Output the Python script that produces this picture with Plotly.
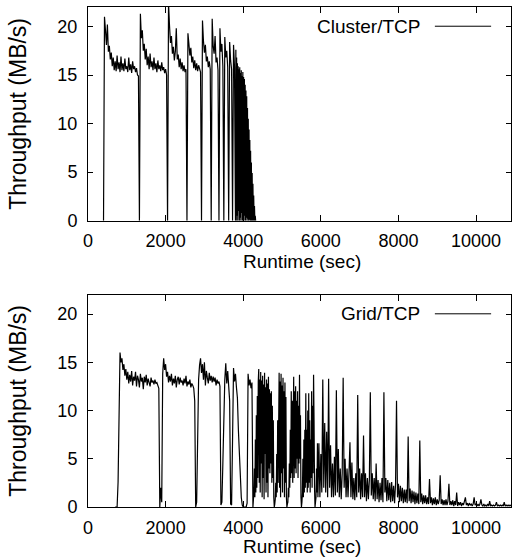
import plotly.graph_objects as go

# Cluster/TCP throughput (MB/s), one sample every 25 s starting at t=400 s
cluster_start = 400
cluster_step = 25
cluster_tput = [
    0, 21.0, 19.6, 18.1, 20.2, 17.4, 18.0, 16.6, 17.3, 15.9,
    16.8, 15.5, 16.4, 15.4, 17.0, 15.6, 16.3, 15.3, 16.9, 15.5,
    16.2, 15.4, 16.7, 15.6, 15.9, 15.3, 16.8, 15.5, 16.1, 15.2,
    16.4, 15.6, 15.9, 15.3, 15.7, 15.0, 14.9, 0, 21.3, 18.8,
    19.6, 17.5, 18.2, 16.6, 17.7, 16.0, 16.9, 15.6, 17.2, 15.8,
    16.4, 15.5, 16.8, 15.6, 16.2, 15.3, 16.5, 15.6, 16.0, 15.4,
    16.3, 15.5, 15.8, 15.2, 15.6, 15.0, 0, 22.4, 20.1, 18.3,
    19.0, 17.2, 17.9, 16.5, 17.4, 19.8, 16.6, 17.1, 15.8, 16.7,
    15.6, 16.3, 15.4, 16.0, 15.3, 15.6, 0, 19.3, 18.2, 17.0,
    17.8, 16.3, 16.9, 15.7, 16.5, 15.5, 16.2, 15.4, 16.0, 15.6,
    15.3, 0, 20.6, 18.5, 17.3, 18.1, 16.4, 16.9, 15.8, 16.4,
    15.6, 0, 20.8, 18.0, 17.2, 19.0, 16.3, 16.8, 15.5, 0,
    19.8, 17.4, 18.2, 15.9, 0, 18.9, 16.8, 17.5, 15.8, 0,
    18.4, 16.5, 15.6, 0, 18.1, 15.8, 0,
]
# last stretch of Cluster/TCP, sampled every 10 s from t=3810 s
cluster_tail_start = 3810
cluster_tail_step = 10
cluster_tail = [
    17.6, 0, 16.8, 0.5, 16.2, 0, 15.9, 1.0, 15.6, 0,
    15.8, 0.3, 15.2, 0, 15.5, 0.8, 14.9, 0, 15.3, 0.2,
    14.8, 0, 14.6, 0.5, 14.0, 0, 13.4, 0.3, 12.8, 0,
    11.6, 0.2, 10.5, 0, 9.4, 0.1, 8.3, 0, 7.2, 0,
    6.0, 0, 4.9, 0, 3.8, 0, 2.6, 0, 1.5, 0,
    0.5, 0,
]

# Grid/TCP throughput (MB/s), every 25 s from t=700 s up to t=4225 s
grid_head_start = 700
grid_head_step = 25
grid_head = [
    0, 0, 0, 2.6, 9.5, 16.0, 15.0, 15.4, 14.2, 14.8,
    13.6, 14.3, 13.2, 14.0, 12.8, 13.7, 13.0, 14.1, 12.6, 13.5,
    13.1, 14.0, 12.5, 13.6, 13.2, 12.4, 13.8, 13.0, 13.4, 12.2,
    13.5, 12.9, 13.7, 12.6, 13.3, 13.0, 12.5, 13.4, 12.9, 13.1,
    12.7, 13.2, 12.8, 12.9, 12.5, 12.3, 0, 2.0, 0.5, 13.8,
    15.4, 14.2, 14.8, 13.5, 14.0, 12.9, 13.6, 13.0, 13.8, 12.6,
    13.3, 12.8, 13.6, 12.4, 13.2, 13.5, 12.7, 13.4, 12.9, 13.1,
    12.6, 13.3, 12.8, 13.6, 12.5, 13.0, 12.7, 13.2, 12.4, 12.8,
    12.6, 12.3, 11.0, 0, 0.5, 8.5, 13.2, 14.7, 15.4, 13.9,
    14.8, 13.2, 15.0, 12.6, 14.1, 13.4, 12.8, 13.9, 13.1, 13.6,
    12.9, 13.5, 13.0, 13.4, 12.6, 13.2, 12.8, 13.0, 12.5, 0.2,
    0.5, 4.5, 10.5, 13.2, 14.9, 12.8, 14.1, 12.2, 11.0, 0.3,
    0.2, 7.0, 14.4, 13.0, 13.8, 12.4, 11.3, 8.0, 5.2, 2.5,
    1.0, 0.2, 0, 0, 0, 0, 0.4, 13.8, 12.6, 13.2,
    12.3, 12.9,
]
# the busy middle part, every 12.5 s from t=4250 s up to t=5937.5 s
grid_mid_start = 4250
grid_mid_step = 12.5
grid_mid = [
    0, 0.5, 1.5, 4.0, 1.0, 7.0, 1.5, 9.5, 2.0, 11.5,
    3.0, 13.0, 14.3, 2.5, 13.2, 1.5, 14.0, 4.5, 13.1, 1.0,
    13.6, 3.0, 12.7, 0.8, 13.9, 5.5, 12.4, 1.5, 13.2, 2.5,
    12.8, 1.0, 13.5, 4.0, 12.2, 3.5, 11.8, 4.5, 12.0, 2.5,
    10.5, 3.0, 9.0, 1.0, 0, 0.3, 0.8, 2.5, 1.0, 5.5,
    1.5, 9.0, 2.5, 12.5, 13.9, 2.0, 13.0, 1.0, 13.8, 3.5,
    12.6, 1.5, 13.4, 4.0, 12.0, 1.0, 12.9, 2.5, 11.4, 1.0,
    0, 0.3, 0.5, 2.0, 1.0, 4.5, 2.0, 8.0, 3.0, 12.0,
    3.5, 11.0, 2.5, 12.5, 13.5, 3.0, 12.0, 4.0, 12.5, 3.5,
    11.0, 5.0, 12.0, 3.0, 10.5, 4.5, 13.7, 5.0, 9.5, 1.0,
    0, 0.5, 1.5, 5.0, 1.0, 7.0, 1.5, 8.0, 2.0, 11.8,
    2.5, 8.0, 1.5, 10.0, 2.0, 11.8, 2.5, 9.0, 1.5, 7.0,
    3.0, 12.0, 2.0, 10.5, 3.5, 13.7, 9.0, 2.0, 0, 0.5,
    1.0, 4.0, 1.5, 6.6, 1.0, 3.0,
]
# the long fading tail, every 25 s from t=5950 s
grid_tail_start = 5950
grid_tail_step = 25
grid_tail = [
    6.6, 1.0, 5.5, 1.5, 13.2, 2.0, 8.7, 1.5, 7.8, 1.0,
    13.3, 2.0, 6.4, 1.0, 4.5, 1.0, 5.2, 1.2, 12.1, 1.5,
    6.0, 1.0, 4.0, 0.8, 3.5, 13.4, 2.0, 5.0, 1.0, 4.0,
    1.0, 3.5, 6.7, 1.0, 4.6, 0.8, 3.0, 0.7, 3.5, 1.0,
    11.6, 1.5, 4.0, 0.8, 3.5, 1.0, 7.4, 1.0, 3.5, 0.6,
    3.0, 0.8, 2.8, 11.9, 1.2, 3.5, 0.8, 3.0, 0.6, 4.5,
    0.8, 2.8, 0.5, 2.5, 0.7, 3.0, 0.5, 11.9, 1.5, 3.0,
    0.6, 2.8, 0.7, 2.5, 0.5, 2.6, 0.6, 2.2, 0.4, 2.4,
    11.0, 1.0, 2.4, 0.5, 2.2, 0.6, 2.0, 0.4, 1.8, 0.5,
    1.8, 0.4, 7.3, 0.6, 1.9, 0.4, 1.7, 0.5, 1.6, 0.3,
    1.5, 0.4, 1.4, 0.3, 6.9, 0.5, 1.4, 0.3, 1.2, 0.4,
    1.2, 0.3, 1.0, 0.3, 2.9, 0.4, 1.0, 0.2, 0.9, 0.3,
    1.0, 0.2, 0.8, 0.3, 0.7, 3.3, 0.3, 0.8, 0.2, 0.7,
    0.2, 0.8, 0.2, 0.6, 2.4, 0.2, 0.6, 0.2, 0.7, 0.1,
    0.6, 0.2, 1.5, 0.1, 0.5, 0.2, 0.5, 0.1, 0.4, 0.2,
    0.5, 1.0, 0.2, 0.4, 0.1, 0.4, 0.2, 0.3, 0.1, 0.3,
    1.0, 0.2, 0.3, 0.1, 0.3, 0.1, 0.3, 0.8, 0.2, 0.1,
    0.3, 0.1, 0.2, 0.1, 0.3, 0.1, 0.6, 0.1, 0.2, 0.1,
    0.2, 0.1, 0.2, 0.5, 0.1, 0.2, 0.1, 0.2, 0.1, 0.2,
    0.1, 0.5, 0.1, 0.2, 0.1, 0.2, 0.1, 0.2, 0.1,
]

x_ticks = [0, 2000, 4000, 6000, 8000, 10000]
y_ticks = [0, 5, 10, 15, 20]
series_names = ["Cluster/TCP", "Grid/TCP"]
x_title = "Runtime (sec)"
y_title = "Throughput (MB/s)"


def join_segments(*segments):
    # each segment is (first sample time, sample spacing, values)
    t, v = [], []
    for start, step, values in segments:
        t += [start + i * step for i in range(len(values))]
        v += values
    return t, v


cluster_t, cluster_v = join_segments(
    (cluster_start, cluster_step, cluster_tput),
    (cluster_tail_start, cluster_tail_step, cluster_tail))
grid_t, grid_v = join_segments(
    (grid_head_start, grid_head_step, grid_head),
    (grid_mid_start, grid_mid_step, grid_mid),
    (grid_tail_start, grid_tail_step, grid_tail))

FONT = "Liberation Sans, Arial, Helvetica, sans-serif"
LINE = dict(color="black", width=1.2)

fig = go.Figure()
fig.add_trace(go.Scatter(x=cluster_t, y=cluster_v, mode="lines",
                         name=series_names[0], line=LINE,
                         xaxis="x", yaxis="y"))
fig.add_trace(go.Scatter(x=grid_t, y=grid_v, mode="lines",
                         name=series_names[1], line=LINE,
                         xaxis="x2", yaxis="y2"))

xaxis_style = dict(range=[0, 10900], tickvals=x_ticks,
                   ticktext=[str(v) for v in x_ticks], ticks="inside",
                   ticklen=6, tickwidth=1, tickcolor="black",
                   showline=True, linecolor="black", linewidth=1,
                   mirror="ticks", showgrid=False, zeroline=False,
                   automargin=False, ticklabelstandoff=4,
                   tickfont=dict(size=18))
yaxis_style = dict(range=[0, 22], tickvals=y_ticks, ticks="inside",
                   ticklen=5, tickwidth=1, tickcolor="black",
                   showline=True, linecolor="black", linewidth=1,
                   mirror="ticks", showgrid=False, zeroline=False,
                   automargin=False, ticklabelstandoff=6,
                   tickfont=dict(size=18),
                   title=dict(text=y_title, standoff=24))

fig.update_layout(
    width=513, height=558,
    margin=dict(l=88, r=2, t=7, b=51),
    paper_bgcolor="white", plot_bgcolor="white",
    font=dict(family=FONT, size=19, color="black"),
    showlegend=False,
    xaxis=dict(xaxis_style, domain=[0, 1], anchor="y"),
    yaxis=dict(yaxis_style, domain=[0.5726, 1.0], anchor="x"),
    xaxis2=dict(xaxis_style, domain=[0, 1], anchor="y2"),
    yaxis2=dict(yaxis_style, domain=[0.0, 0.4246], anchor="x2"),
)

for name, xref, yref, title_y in [
        (series_names[0], "x domain", "y domain", -0.192),
        (series_names[1], "x2 domain", "y2 domain", -0.186)]:
    # x-axis title sits close under the tick labels, as gnuplot does
    fig.add_annotation(text=x_title, x=0.505, y=title_y, xref=xref, yref=yref,
                       xanchor="center", yanchor="middle", showarrow=False)
    # gnuplot-style key: label on the left, line sample on the right
    fig.add_annotation(text=name, x=0.789, y=0.91, xref=xref, yref=yref,
                       xanchor="right", yanchor="middle", showarrow=False)
    fig.add_shape(type="line", x0=0.82, x1=0.953, y0=0.91, y1=0.91,
                  xref=xref, yref=yref, line=dict(color="black", width=1))

fig.write_html("out.html", config={"displayModeBar": False},
               post_script="document.body.style.margin='0';")
